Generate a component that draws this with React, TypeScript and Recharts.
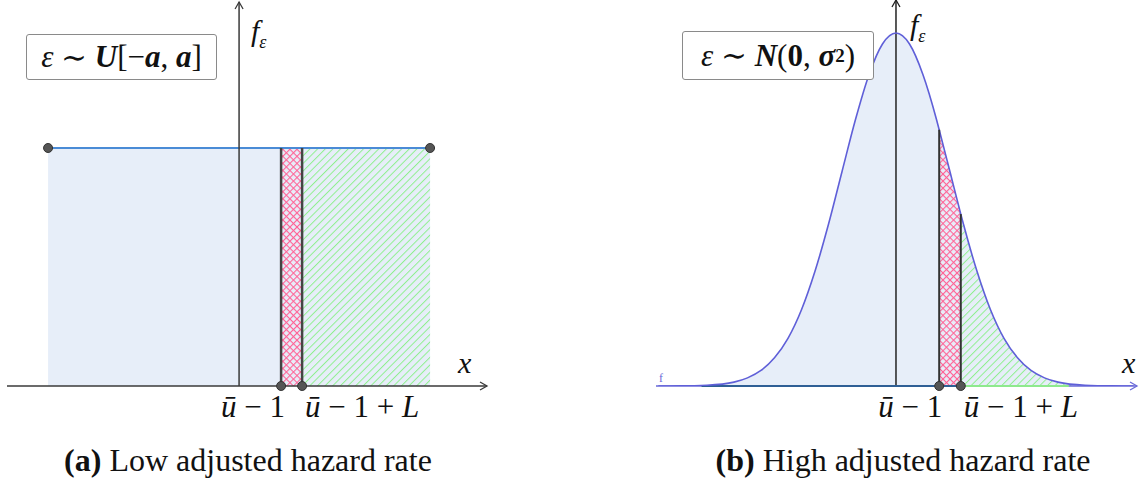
import React from "react";
import { ComposedChart, Area, XAxis, YAxis, ReferenceLine, ReferenceDot } from "recharts";

// (a) uniform density, a = 1
const uniX = [-1, 0.22, 0.33, 1];
const uniF = [0.5, 0.5, 0.5, 0.5];
const uniCut = [0.22, 0.33]; // ū−1, ū−1+L

// (b) normal density, x in σ units, peak scaled to 1
const normZ = [-4.4, -4, -3.5, -3, -2.75, -2.5, -2.25, -2, -1.75, -1.5, -1.25, -1, -0.75, -0.5, -0.25, 0,
  0.25, 0.5, 0.75, 0.8, 1, 1.2, 1.25, 1.5, 1.75, 2, 2.25, 2.5, 2.75, 3, 3.5, 4, 4.4];
const normF = [0.0001, 0.0003, 0.0022, 0.011, 0.023, 0.044, 0.08, 0.135, 0.216, 0.325, 0.458, 0.607, 0.755, 0.882, 0.969, 1,
  0.969, 0.882, 0.755, 0.726, 0.607, 0.487, 0.458, 0.325, 0.216, 0.135, 0.08, 0.044, 0.023, 0.011, 0.0022, 0.0003, 0.0001];
const normCut = [0.8, 1.2];

const uniData = uniX.map((x, i) => ({
  x,
  f: uniF[i],
  red: x >= uniCut[0] && x <= uniCut[1] ? uniF[i] : null,
  green: x >= uniCut[1] ? uniF[i] : null,
}));

const normData = normZ.map((x, i) => ({
  x,
  f: normF[i],
  red: x >= normCut[0] && x <= normCut[1] ? normF[i] : null,
  green: x >= normCut[1] ? normF[i] : null,
}));

const MATH = "'Liberation Serif', 'DejaVu Serif', serif";
const blueFill = "#e7eef9";
const axisColor = "#3a3a3a";

// line with an open arrow head at its right / top end
const axisArrow = (props: any) => {
  const { x1, y1, x2, y2, stroke } = props;
  const horiz = Math.abs(x2 - x1) > Math.abs(y2 - y1);
  let sx = x1, sy = y1, tx = x2, ty = y2;
  if ((horiz && x1 > x2) || (!horiz && y1 < y2)) {
    sx = x2; sy = y2; tx = x1; ty = y1;
  }
  const len = Math.hypot(tx - sx, ty - sy) || 1;
  const ux = (tx - sx) / len;
  const uy = (ty - sy) / len;
  const px = -uy;
  const py = ux;
  const head = `M${tx - 7 * ux + 4 * px} ${ty - 7 * uy + 4 * py} L${tx} ${ty} L${tx - 7 * ux - 4 * px} ${ty - 7 * uy - 4 * py}`;
  return (
    <g>
      <line x1={sx} y1={sy} x2={tx} y2={ty} stroke={stroke} strokeWidth={1.5} />
      <path d={head} fill="none" stroke={stroke} strokeWidth={1.3} />
    </g>
  );
};

const tickDot = (withL: boolean, dx: number) => (props: any) => {
  const { cx, cy } = props;
  return (
    <g>
      <circle cx={cx} cy={cy} r={4.5} fill="#555" stroke="#333" strokeWidth={1} />
      <text
        x={cx + dx}
        y={cy + 31}
        textAnchor={withL ? "start" : "end"}
        fontFamily={MATH}
        fontSize={31}
        fill="#111"
      >
        <tspan fontStyle="italic">ū</tspan>
        <tspan> − 1</tspan>
        {withL && <tspan> + </tspan>}
        {withL && <tspan fontStyle="italic">L</tspan>}
      </text>
    </g>
  );
};

const endDot = (props: any) => (
  <circle cx={props.cx} cy={props.cy} r={4.5} fill="#555" stroke="#333" strokeWidth={1} />
);

const Patterns = ({ id }: { id: string }) => (
  <defs>
    <pattern id={`cross-${id}`} patternUnits="userSpaceOnUse" width="5" height="5" patternTransform="rotate(45)">
      <line x1="0" y1="0" x2="0" y2="5" stroke="#ff6396" strokeWidth="2.2" />
      <line x1="0" y1="0" x2="5" y2="0" stroke="#ff6396" strokeWidth="2.2" />
    </pattern>
    <pattern id={`diag-${id}`} patternUnits="userSpaceOnUse" width="5.4" height="5.4" patternTransform="rotate(45)">
      <line x1="0" y1="0" x2="0" y2="5.4" stroke="#8fef8f" strokeWidth="2" />
    </pattern>
  </defs>
);

const boxStyle: React.CSSProperties = {
  position: "absolute",
  border: "1px solid #8a8a8a",
  borderRadius: 3,
  background: "#fff",
  fontFamily: MATH,
  fontSize: 31,
  color: "#111",
  display: "flex",
  alignItems: "center",
  justifyContent: "center",
  whiteSpace: "nowrap",
};

const labelStyle: React.CSSProperties = {
  position: "absolute",
  fontFamily: MATH,
  fontStyle: "italic",
  fontSize: 30,
  color: "#111",
  lineHeight: 1,
  whiteSpace: "nowrap",
};

const captionStyle: React.CSSProperties = {
  position: "absolute",
  top: 442,
  fontFamily: "'Liberation Serif', serif",
  fontSize: 32,
  color: "#111",
  whiteSpace: "nowrap",
  transform: "translateX(-50%)",
};

const bi: React.CSSProperties = { fontWeight: 700, fontStyle: "italic" };

export default function App() {
  return (
    <div style={{ position: "absolute", left: 0, top: 0, width: 1143, height: 488, background: "#fff", overflow: "hidden" }}>
      {/* (a) uniform */}
      <div style={{ position: "absolute", left: 0, top: 0 }}>
        <ComposedChart width={560} height={430} data={uniData} margin={{ top: 2, right: 73, bottom: 44, left: 7 }}>
          <Patterns id="a" />
          <XAxis type="number" dataKey="x" domain={[-1.215, 1.298]} allowDataOverflow hide />
          <YAxis type="number" domain={[0, 0.8067]} allowDataOverflow hide />
          <Area dataKey="f" type="linear" fill={blueFill} fillOpacity={1} stroke="none" isAnimationActive={false} activeDot={false} />
          <Area dataKey="red" type="linear" fill="url(#cross-a)" fillOpacity={1} stroke="none" isAnimationActive={false} activeDot={false} />
          <Area dataKey="green" type="linear" fill="url(#diag-a)" fillOpacity={1} stroke="none" isAnimationActive={false} activeDot={false} />
          <Area dataKey="f" type="linear" fill="none" stroke="#4a8bd6" strokeWidth={2} isAnimationActive={false} activeDot={false} />
          <ReferenceLine x={0} stroke={axisColor} shape={axisArrow} zIndex={600} />
          <ReferenceLine y={0} stroke={axisColor} shape={axisArrow} zIndex={600} />
          <ReferenceLine segment={[{ x: uniCut[0], y: 0 }, { x: uniCut[0], y: uniF[1] }]} stroke="#444" strokeWidth={2.5} zIndex={600} />
          <ReferenceLine segment={[{ x: uniCut[1], y: 0 }, { x: uniCut[1], y: uniF[2] }]} stroke="#444" strokeWidth={2.5} zIndex={600} />
          <ReferenceDot x={uniX[0]} y={uniF[0]} shape={endDot} zIndex={700} />
          <ReferenceDot x={uniX[3]} y={uniF[3]} shape={endDot} zIndex={700} />
          <ReferenceDot x={uniCut[0]} y={0} shape={tickDot(false, 4)} zIndex={700} />
          <ReferenceDot x={uniCut[1]} y={0} shape={tickDot(true, 3)} zIndex={700} />
        </ComposedChart>
      </div>
      <div style={{ ...boxStyle, left: 26, top: 34, width: 189, height: 44 }}>
        <i>ε</i>&nbsp;∼&nbsp;<span style={bi}>U</span>[−<span style={bi}>a</span>,&nbsp;<span style={bi}>a</span>]
      </div>
      <div style={{ ...labelStyle, left: 251, top: 16 }}>
        f<span style={{ fontSize: 18, fontStyle: "italic", verticalAlign: -7 }}>ε</span>
      </div>
      <div style={{ ...labelStyle, left: 458, top: 348 }}>x</div>

      {/* (b) normal */}
      <div style={{ position: "absolute", left: 600, top: 0 }}>
        <ComposedChart width={543} height={430} data={normData} margin={{ top: 0, right: 6, bottom: 44, left: 56 }}>
          <Patterns id="b" />
          <XAxis type="number" dataKey="x" domain={[-4.444, 4.463]} allowDataOverflow hide />
          <YAxis type="number" domain={[0, 1.0935]} allowDataOverflow hide />
          <Area dataKey="f" type="monotone" fill={blueFill} fillOpacity={1} stroke="none" isAnimationActive={false} activeDot={false} />
          <Area dataKey="red" type="monotone" fill="url(#cross-b)" fillOpacity={1} stroke="none" isAnimationActive={false} activeDot={false} />
          <Area dataKey="green" type="monotone" fill="url(#diag-b)" fillOpacity={1} stroke="none" isAnimationActive={false} activeDot={false} />
          <ReferenceLine x={0} stroke="#222" shape={axisArrow} zIndex={600} />
          <ReferenceLine y={0} stroke="#6a6ad8" shape={axisArrow} zIndex={600} />
          <ReferenceLine segment={[{ x: -3.6, y: 0 }, { x: normCut[1], y: 0 }]} stroke="#2f5f95" strokeWidth={2} zIndex={610} />
          <ReferenceLine segment={[{ x: normCut[1], y: 0 }, { x: 3.2, y: 0 }]} stroke="#8ee98e" strokeWidth={2} zIndex={610} />
          <Area dataKey="f" type="monotone" fill="none" stroke="#5f5fd8" strokeWidth={1.6} isAnimationActive={false} activeDot={false} zIndex={620} />
          <ReferenceLine segment={[{ x: normCut[0], y: 0 }, { x: normCut[0], y: normF[19] }]} stroke="#333" strokeWidth={2} zIndex={630} />
          <ReferenceLine segment={[{ x: normCut[1], y: 0 }, { x: normCut[1], y: normF[21] }]} stroke="#333" strokeWidth={2} zIndex={630} />
          <ReferenceDot x={normCut[0]} y={0} shape={tickDot(false, 3)} zIndex={700} />
          <ReferenceDot x={normCut[1]} y={0} shape={tickDot(true, 3)} zIndex={700} />
        </ComposedChart>
      </div>
      <div style={{ ...boxStyle, left: 682, top: 31, width: 190, height: 47 }}>
        <i>ε</i>&nbsp;∼&nbsp;<span style={bi}>N</span>(<b>0</b>,&nbsp;<span style={bi}>σ</span><sup style={{ fontSize: 19, fontWeight: 700 }}>2</sup>)
      </div>
      <div style={{ ...labelStyle, left: 910, top: 10 }}>
        f<span style={{ fontSize: 18, fontStyle: "italic", verticalAlign: -7 }}>ε</span>
      </div>
      <div style={{ ...labelStyle, left: 1122, top: 348 }}>x</div>
      <div style={{ position: "absolute", left: 659, top: 371, fontFamily: MATH, fontSize: 12, color: "#6a6ad8" }}>f</div>

      <div style={{ ...captionStyle, left: 248 }}>
        <b>(a)</b> Low adjusted hazard rate
      </div>
      <div style={{ ...captionStyle, left: 903 }}>
        <b>(b)</b> High adjusted hazard rate
      </div>
    </div>
  );
}
